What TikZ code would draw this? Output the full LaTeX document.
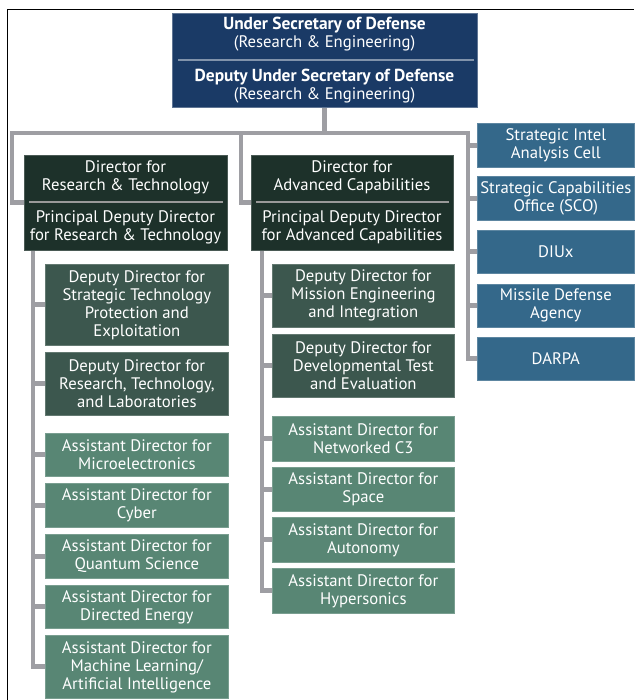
\documentclass[tikz,border=0pt]{standalone}
\usepackage{fontspec}
\setmainfont{PT Sans}
\usetikzlibrary{calc,backgrounds}
\definecolor{navy}{RGB}{26,58,102}
\definecolor{dirgreen}{RGB}{29,49,42}
\definecolor{ddgreen}{RGB}{60,87,78}
\definecolor{adgreen}{RGB}{88,134,116}
\definecolor{rblue}{RGB}{52,104,138}
\definecolor{conngray}{RGB}{158,158,163}
\newcommand{\fsz}{\fontsize{16.7}{18}\selectfont}
\newcommand{\hd}[1]{{\fontsize{17.4}{18}\selectfont\bfseries #1}}
\tikzset{
  box/.style={rectangle, inner sep=0pt, align=center, text=white, font=\fsz, line width=0.7pt},
  topbox/.style={box, fill=navy, draw=navy!70!white},
  dirbox/.style={box, fill=dirgreen, draw=dirgreen!80!white},
  ddbox/.style={box, fill=ddgreen, draw=ddgreen!80!white},
  adbox/.style={box, fill=adgreen, draw=adgreen!80!white},
  rbox/.style={box, fill=rblue, draw=rblue!80!white},
  txt/.style={inner sep=0pt, align=center, text=white, font=\fsz},
  divider/.style={line width=1.2pt},
  conn/.style={draw=conngray, line width=4.8pt},
}
\newcommand{\placebox}[7]{%
  \node[#2, anchor=north west, minimum width={(#5-#3)*1pt}, minimum height={(#6-#4)*1pt}] (#1) at (#3,#4) {#7};}
\begin{document}
\begin{tikzpicture}[x=1pt,y=-1pt]
\useasboundingbox (0,0) rectangle (634,700);
% frame
\draw[line width=1.6pt] (7.5,700) -- (7.5,9.5) -- (634,9.5);

% top box
\placebox{top}{topbox}{172}{13}{477}{107}{}
\node[txt] (topA) at (324.5,34) {\hd{Under Secretary of Defense}\\(Research \& Engineering)};
\node[txt] (topB) at (324.5,86) {\hd{Deputy Under Secretary of Defense}\\(Research \& Engineering)};
\draw[divider, draw=navy!55!white] ($(top.north west)+(6,47)$) -- ($(top.north east)+(-4,47)$);

% directors
\placebox{dirRT}{dirbox}{24}{155}{227}{250}{}
\node[txt] (dirRTa) at (125.5,177) {Director for\\Research \& Technology};
\node[txt] (dirRTb) at (125.5,227) {Principal Deputy Director\\for Research \& Technology};
\draw[divider, draw=gray!80!white] ($(dirRT.north west)+(5,47)$) -- ($(dirRT.north east)+(-5,47)$);

\placebox{dirAC}{dirbox}{251}{155}{453}{250}{}
\node[txt] (dirACa) at (352,177) {Director for\\Advanced Capabilities};
\node[txt] (dirACb) at (352,227) {Principal Deputy Director\\for Advanced Capabilities};
\draw[divider, draw=gray!80!white] ($(dirAC.north west)+(5,47)$) -- ($(dirAC.north east)+(-5,47)$);

% right column
\placebox{sia}{rbox}{477}{123}{634}{167}{Strategic Intel\\Analysis Cell}
\placebox{sco}{rbox}{477}{176}{634}{220}{Strategic Capabilities\\Office (SCO)}
\placebox{diux}{rbox}{477}{230}{634}{273}{DIUx}
\placebox{mda}{rbox}{477}{284}{634}{327}{Missile Defense\\Agency}
\placebox{darpa}{rbox}{477}{337}{634}{380}{DARPA}

% left column
\placebox{ddstp}{ddbox}{45}{264}{228}{345}{Deputy Director for\\Strategic Technology\\Protection and\\Exploitation}
\placebox{ddrtl}{ddbox}{45}{352}{228}{415}{Deputy Director for\\Research, Technology,\\and Laboratories}
\placebox{admicro}{adbox}{45}{433}{228}{476}{Assistant Director for\\Microelectronics}
\placebox{adcyber}{adbox}{45}{483}{228}{527}{Assistant Director for\\Cyber}
\placebox{adqs}{adbox}{45}{534}{228}{578}{Assistant Director for\\Quantum Science}
\placebox{adde}{adbox}{45}{585}{228}{628}{Assistant Director for\\Directed Energy}
\placebox{admlai}{adbox}{45}{635}{228}{698}{Assistant Director for\\Machine Learning/\\Artificial Intelligence}

% middle column
\placebox{ddmei}{ddbox}{272}{264}{454}{327}{Deputy Director for\\Mission Engineering\\and Integration}
\placebox{dddte}{ddbox}{272}{334}{454}{397}{Deputy Director for\\Developmental Test\\and Evaluation}
\placebox{adc3}{adbox}{272}{416}{454}{461}{Assistant Director for\\Networked C3}
\placebox{adspace}{adbox}{272}{467}{454}{511}{Assistant Director for\\Space}
\placebox{adauto}{adbox}{272}{517}{454}{562}{Assistant Director for\\Autonomy}
\placebox{adhyper}{adbox}{272}{568}{454}{613}{Assistant Director for\\Hypersonics}

% connectors
\begin{scope}[on background layer]
\coordinate (busL) at (12,133);
\coordinate (busM) at (241,133);
\coordinate (busR) at (468,133);
\draw[conn] (top.south) -- (top.south |- busL);
\draw[conn] (dirRT.west) -| (busL) -- (busR) |- (darpa.west);
\draw[conn] (busM) |- (dirAC.west);
\foreach \b in {sia,sco,diux,mda} \draw[conn] (busR |- \b.west) -- (\b.west);
\coordinate (spL) at ($(dirRT.south west)+(9,0)$);
\draw[conn] (spL) |- (admlai.west);
\foreach \b in {ddstp,ddrtl,admicro,adcyber,adqs,adde} \draw[conn] (spL |- \b.west) -- (\b.west);
\coordinate (spM) at ($(dirAC.south west)+(11,0)$);
\draw[conn] (spM) |- (adhyper.west);
\foreach \b in {ddmei,dddte,adc3,adspace,adauto} \draw[conn] (spM |- \b.west) -- (\b.west);
\end{scope}
\end{tikzpicture}
\end{document}
